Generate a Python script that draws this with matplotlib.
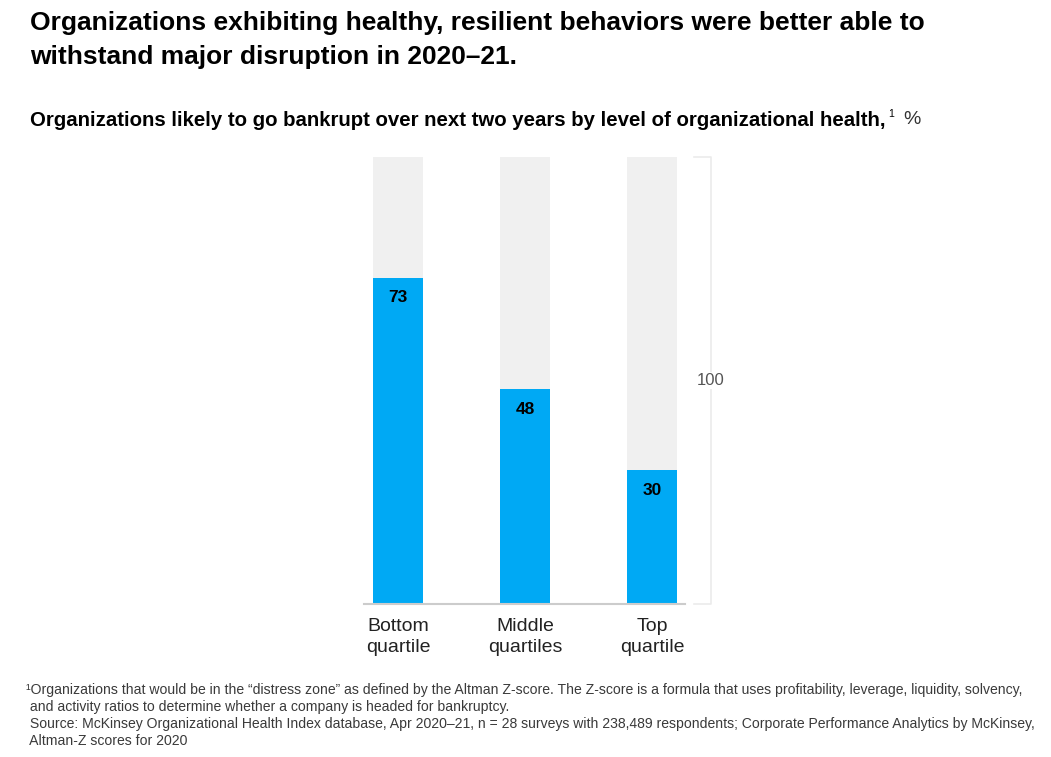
import numpy as np
import matplotlib.pyplot as plt

plt.rcParams['font.family'] = ['Liberation Sans', 'DejaVu Sans']

categories = ['Bottom\nquartile', 'Middle\nquartiles', 'Top\nquartile']
values = [73, 48, 30]
total = 100

title = ('Organizations exhibiting healthy, resilient behaviors were better able to\n'
         'withstand major disruption in 2020\u201321.')
subtitle = 'Organizations likely to go bankrupt over next two years by level of organizational health,'
footnote = ('\u00b9Organizations that would be in the \u201cdistress zone\u201d as defined by the Altman Z-score. '
            'The Z-score is a formula that uses profitability, leverage, liquidity, solvency,\n'
            ' and activity ratios to determine whether a company is headed for bankruptcy.\n'
            ' Source: McKinsey Organizational Health Index database, Apr 2020\u201321, n = 28 surveys with '
            '238,489 respondents; Corporate Performance Analytics by McKinsey,\n'
            ' Altman-Z scores for 2020')

W, H = 1051, 757
fig = plt.figure(figsize=(W / 100, H / 100), dpi=100)

# axes placed in pixel terms: x 340..740, y 157..604
ax = fig.add_axes([340 / W, 1 - 604 / H, 400 / W, 447 / H])
x = np.arange(len(categories))
bw = 0.39
ax.bar(x, [total] * len(x), width=bw, color='#f0f0f0', zorder=1)
ax.bar(x, values, width=bw, color='#00a9f4', zorder=2)
for xi, v in zip(x, values):
    ax.text(xi, v - 4.5, str(v), ha='center', va='center', fontsize=12.5,
            fontweight='bold', color='#000000', zorder=3)

ax.set_xlim(-0.457, 2.693)
ax.set_ylim(0, 100)
ax.axis('off')

# baseline
ax.plot([-0.268, 2.26], [0, 0], color='#cccccc', lw=1.5, zorder=3, clip_on=False)
# bracket for 100
bx0, bx1 = 2.33, 2.465
ax.plot([bx0, bx1, bx1, bx0], [100, 100, 0, 0], color='#ebebeb', lw=1.2, clip_on=False)
ax.text(bx1, 50, '100', ha='center', va='center', fontsize=12, color='#555555',
        bbox=dict(facecolor='white', edgecolor='none', pad=1))

for xi, c in zip(x, categories):
    ax.text(xi, -3.2, c, ha='center', va='top', fontsize=14, color='#222222',
            linespacing=1.32)

fig.text(30 / W, 1 - 11 / H, title, ha='left', va='top', fontsize=19,
         fontweight='bold', color='#000000', linespacing=1.55)
sub = fig.text(30 / W, 1 - 120 / H, subtitle, ha='left', va='center', fontsize=14.7,
               fontweight='bold', color='#000000')
fig.canvas.draw()
bb = sub.get_window_extent()
fig.text(bb.x1 / W + 3 / W, 1 - 114 / H, '1', ha='left', va='center', fontsize=7.5, color='#000000')
fig.text(bb.x1 / W + 18 / W, 1 - 120 / H, '%', ha='left', va='center', fontsize=14, color='#333333')

fig.text(26 / W, 1 - 683 / H, footnote, ha='left', va='top', fontsize=10.1,
         color='#3a3a3a', linespacing=1.27)

fig.savefig('out.png', dpi=100)
